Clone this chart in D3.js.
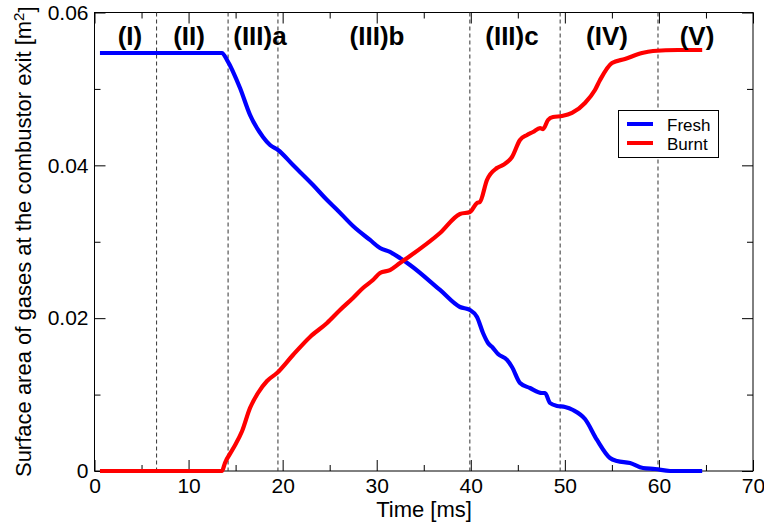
<!DOCTYPE html>
<html>
<head>
<meta charset="utf-8">
<script src="https://cdn.jsdelivr.net/npm/d3@7"></script>
<style>
  html, body { margin: 0; padding: 0; background: #fff; }
  svg { display: block; }
  text { font-family: "Liberation Sans", Arial, Helvetica, sans-serif; }
</style>
</head>
<body>
<svg id="chart" width="764" height="529"></svg>
<script>
// ---------- DATA ----------
const freshTime = [0.58, 13.55, 14.09, 15.47, 16.53, 17.91, 18.66, 19.51, 21.10, 23.23, 24.72, 25.78, 27.48, 29.29, 30.35, 31.41, 32.47, 33.54, 36.73, 38.85, 39.91, 40.66, 41.30, 41.83, 42.36, 42.90, 43.85, 44.38, 45.23, 46.29, 47.57, 47.89, 48.42, 49.17, 50.02, 50.87, 52.14, 53.42, 54.80, 55.54, 56.93, 58.31, 59.59, 61.19, 64.60];
const freshArea = [0.0547, 0.0547, 0.05378, 0.05012, 0.0466, 0.04372, 0.04266, 0.04201, 0.04004, 0.03743, 0.03546, 0.0342, 0.03206, 0.03023, 0.02918, 0.02866, 0.02787, 0.02696, 0.02369, 0.02146, 0.02107, 0.02015, 0.01806, 0.01675, 0.0161, 0.01531, 0.01453, 0.01361, 0.01152, 0.01086, 0.01021, 0.01021, 0.0089, 0.00851, 0.00838, 0.00798, 0.0068, 0.00406, 0.0017, 0.00131, 0.00105, 0.00039, 0.00026, 0.0, 0.0];

const burntTime = [0.58, 13.55, 13.87, 14.72, 15.68, 16.53, 17.38, 18.34, 19.40, 21.10, 22.91, 24.72, 26.10, 27.48, 28.54, 29.60, 30.35, 31.41, 32.47, 33.54, 36.73, 38.85, 39.91, 40.66, 40.97, 41.72, 42.78, 43.42, 44.38, 45.23, 45.98, 46.61, 47.36, 47.68, 48.21, 48.74, 49.70, 50.76, 52.14, 53.20, 53.74, 55.01, 56.39, 58.20, 59.37, 62.03, 64.60];
const burntArea = [0.0, 0.0, 0.00105, 0.0029, 0.0052, 0.00824, 0.01021, 0.01178, 0.01282, 0.01518, 0.01754, 0.01937, 0.02107, 0.02264, 0.02395, 0.02499, 0.02591, 0.0263, 0.02722, 0.02813, 0.03114, 0.03363, 0.03389, 0.03507, 0.0352, 0.03808, 0.03965, 0.04004, 0.04109, 0.04332, 0.04397, 0.04436, 0.04488, 0.04475, 0.04593, 0.04632, 0.04645, 0.04685, 0.04816, 0.04986, 0.05117, 0.05339, 0.05391, 0.0547, 0.05496, 0.05509, 0.05509];

const phaseBoundaries = [6.6, 14.2, 19.5, 39.9, 49.5, 59.9];
const phaseLabels = ["(I)", "(II)", "(III)a", "(III)b", "(III)c", "(IV)", "(V)"];
const phaseLabelTime = [3.77, 10.05, 17.59, 30.03, 44.38, 54.48, 64.05];

const xMajorTicks = [0, 10, 20, 30, 40, 50, 60, 70];
const xMinorTicks = [5, 15, 25, 35, 45, 55, 65];
const yMajorTicks = [0, 0.02, 0.04, 0.06];
const yMinorTicks = [0.01, 0.03, 0.05];

const seriesNames = ["Fresh", "Burnt"];
const seriesColors = ["#0000ff", "#ff0000"];

const xTitle = "Time [ms]";
const yTitle = "Surface area of gases at the combustor exit [m";

// ---------- LAYOUT ----------
const margin = { left: 94.5, right: 764 - 753, top: 12.5, bottom: 529 - 471 };
const W = 764, H = 529;
const svg = d3.select("#chart");
svg.append("rect").attr("width", W).attr("height", H).attr("fill", "#fff");

const x = d3.scaleLinear().domain([0, 70]).range([margin.left, W - margin.right]);
const y = d3.scaleLinear().domain([0, 0.06]).range([H - margin.bottom, margin.top]);

const fmtY = d => d === 0 ? "0" : d3.format(".2f")(d);
const majorLen = 11, minorLen = 6;

function styleAxis(g) {
  g.selectAll("text").attr("font-size", 21).attr("fill", "#000")
    .style("font-family", '"Liberation Sans", Arial, sans-serif');
  g.selectAll("line").attr("stroke", "#000").attr("stroke-width", 1);
  g.select(".domain").remove();
}

// bottom axis
svg.append("g").attr("transform", `translate(0,${y(0)})`)
  .call(d3.axisBottom(x).tickValues(xMajorTicks).tickFormat(d3.format("d"))
        .tickSizeInner(-majorLen).tickSizeOuter(0).tickPadding(7))
  .call(styleAxis);
svg.append("g").attr("transform", `translate(0,${y(0)})`)
  .call(d3.axisBottom(x).tickValues(xMinorTicks).tickFormat("")
        .tickSizeInner(-minorLen).tickSizeOuter(0))
  .call(styleAxis);
// top axis
svg.append("g").attr("transform", `translate(0,${y(0.06)})`)
  .call(d3.axisTop(x).tickValues(xMajorTicks).tickFormat("")
        .tickSizeInner(-majorLen).tickSizeOuter(0))
  .call(styleAxis);
svg.append("g").attr("transform", `translate(0,${y(0.06)})`)
  .call(d3.axisTop(x).tickValues(xMinorTicks).tickFormat("")
        .tickSizeInner(-minorLen).tickSizeOuter(0))
  .call(styleAxis);
// left axis
svg.append("g").attr("transform", `translate(${x(0)},0)`)
  .call(d3.axisLeft(y).tickValues(yMajorTicks).tickFormat(fmtY)
        .tickSizeInner(-majorLen).tickSizeOuter(0).tickPadding(6))
  .call(styleAxis);
svg.append("g").attr("transform", `translate(${x(0)},0)`)
  .call(d3.axisLeft(y).tickValues(yMinorTicks).tickFormat("")
        .tickSizeInner(-minorLen).tickSizeOuter(0))
  .call(styleAxis);
// right axis
svg.append("g").attr("transform", `translate(${x(70)},0)`)
  .call(d3.axisRight(y).tickValues(yMajorTicks).tickFormat("")
        .tickSizeInner(-majorLen).tickSizeOuter(0))
  .call(styleAxis);
svg.append("g").attr("transform", `translate(${x(70)},0)`)
  .call(d3.axisRight(y).tickValues(yMinorTicks).tickFormat("")
        .tickSizeInner(-minorLen).tickSizeOuter(0))
  .call(styleAxis);

// frame
svg.append("rect")
  .attr("x", x(0)).attr("y", y(0.06))
  .attr("width", x(70) - x(0)).attr("height", y(0) - y(0.06))
  .attr("fill", "none").attr("stroke", "#000").attr("stroke-width", 1);

// phase boundaries
svg.append("g").selectAll("line").data(phaseBoundaries).join("line")
  .attr("x1", d => x(d)).attr("x2", d => x(d))
  .attr("y1", y(0.06)).attr("y2", y(0))
  .attr("stroke", "#333").attr("stroke-width", 1)
  .attr("stroke-dasharray", "4,3");

// curves
const line = d3.line().curve(d3.curveMonotoneX).x(d => x(d[0])).y(d => y(d[1]));
const freshPts = freshTime.map((t, i) => [t, freshArea[i]]);
const burntPts = burntTime.map((t, i) => [t, burntArea[i]]);
[[freshPts, seriesColors[0]], [burntPts, seriesColors[1]]].forEach(([pts, c]) => {
  svg.append("path").datum(pts).attr("d", line)
    .attr("fill", "none").attr("stroke", c).attr("stroke-width", 4.2)
    .attr("stroke-linejoin", "round").attr("stroke-linecap", "butt");
});

// phase labels
svg.append("g").selectAll("text").data(phaseLabels).join("text")
  .attr("x", (d, i) => x(phaseLabelTime[i]))
  .attr("y", 45)
  .attr("text-anchor", "middle")
  .attr("font-size", 26).attr("font-weight", "bold")
  .text(d => d);

// axis titles
svg.append("text")
  .attr("x", 424).attr("y", 517)
  .attr("text-anchor", "middle").attr("font-size", 22)
  .text(xTitle);

const yt = svg.append("text")
  .attr("transform", `translate(31,${(y(0) + y(0.06)) / 2}) rotate(-90)`)
  .attr("text-anchor", "middle").attr("font-size", 22);
yt.append("tspan").text(yTitle);
yt.append("tspan").attr("dy", "-0.45em").attr("font-size", 15).text("2");
yt.append("tspan").attr("dy", "0.45em").text("]");

// legend
const lg = svg.append("g");
lg.append("rect").attr("x", 618.5).attr("y", 110.5).attr("width", 100).attr("height", 47)
  .attr("fill", "#fff").attr("stroke", "#000").attr("stroke-width", 1);
seriesNames.forEach((n, i) => {
  const yy = 124 + i * 19;
  lg.append("line").attr("x1", 627).attr("x2", 653).attr("y1", yy).attr("y2", yy)
    .attr("stroke", seriesColors[i]).attr("stroke-width", 4);
  lg.append("text").attr("x", 667).attr("y", yy + 6.5).attr("font-size", 17).text(n);
});
</script>
</body>
</html>
